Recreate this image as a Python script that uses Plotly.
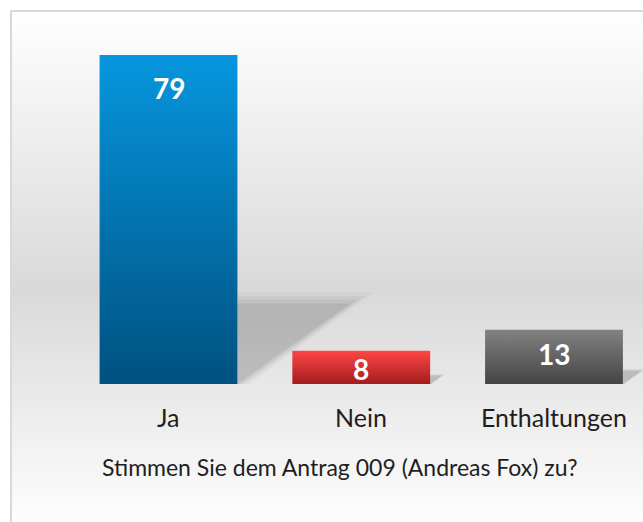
import plotly.graph_objects as go

# ---- data ----
categories = ["Ja", "Nein", "Enthaltungen"]
votes = [79, 8, 13]
axis_title = "Stimmen Sie dem Antrag 009 (Andreas Fox) zu?"

# ---- styles ----
bar_top_colors = ["#0696de", "#ff4646", "#828282"]
bar_bottom_colors = ["#005180", "#a31d1d", "#444444"]
label_shift_px = [-33, -18, -24]
FONT = "Lato, Open Sans, sans-serif"

W, H = 643, 522
L, R, T, B = 72, 0, 40, 138
pw, ph = W - L - R, H - T - B
cat_px = 192.75
first_center_px = 168.5
px_per_unit = 329 / 79.0
bar_w = 0.715

x_range = [(L - first_center_px) / cat_px, (W - R - first_center_px) / cat_px]
y_range = [0, ph / px_per_unit]


def px2paper_x(px):
    return (px - L) / pw


def px2paper_y(py):
    return (H - B - py) / ph


fig = go.Figure()

# ---- background gradient (white -> gray -> white) ----
def bg_level(py):
    top, mid, bot = 10, 290, 532
    if py <= mid:
        t = (py - top) / (mid - top)
    else:
        t = (bot - py) / (bot - mid)
    t = max(0.0, min(1.0, t))
    return int(round(255 - (255 - 217) * t))

shapes = []
step = 2
for py in range(10, H + 2, step):
    g = bg_level(py + step / 2)
    shapes.append(dict(type="rect", xref="paper", yref="paper",
                       x0=px2paper_x(11), x1=px2paper_x(W + 10),
                       y0=px2paper_y(py + step), y1=px2paper_y(py),
                       fillcolor=f"rgb({g},{g},{g})", line=dict(width=0),
                       layer="below"))
shapes.append(dict(type="rect", xref="paper", yref="paper",
                   x0=px2paper_x(11), x1=px2paper_x(W + 20),
                   y0=px2paper_y(H + 20), y1=px2paper_y(11),
                   fillcolor="rgba(0,0,0,0)",
                   line=dict(color="#d9d9d9", width=2), layer="below"))

# ---- shadows (soft perspective triangles) ----
for i, v in enumerate(votes):
    xr = i + bar_w / 2
    h = 0.245 * v
    ext = 0.585 * v / 79.0
    scale = max(v / 79.0, 0.15)
    for grow, alpha in [(0.12, 0.05), (0.08, 0.07), (0.04, 0.09), (0.0, 0.13)]:
        gx = grow * scale
        gy = grow * 22 * scale
        fig.add_trace(go.Scatter(
            x=[xr, xr, xr + ext + gx, xr + gx * 0.5],
            y=[0, h + gy, h + gy, 0],
            fill="toself", mode="lines", line=dict(width=0),
            fillcolor=f"rgba(90,90,90,{alpha})", hoverinfo="skip",
            showlegend=False))

# ---- gradient bars ----
for i, (c, v) in enumerate(zip(categories, votes)):
    fig.add_trace(go.Scatter(
        x=[i - bar_w / 2, i + bar_w / 2, i + bar_w / 2, i - bar_w / 2, i - bar_w / 2],
        y=[0, 0, v, v, 0],
        fill="toself", mode="lines", line=dict(width=0),
        fillgradient=dict(type="vertical",
                          colorscale=[[0, bar_bottom_colors[i]], [1, bar_top_colors[i]]]),
        name=c, hoverinfo="skip", showlegend=False))

annotations = []
for i, v in enumerate(votes):
    annotations.append(dict(x=i, y=v, xref="x", yref="y", text=str(v),
                            showarrow=False, yanchor="middle", yshift=label_shift_px[i],
                            font=dict(family=FONT, size=28, color="white", weight="bold")))
for i, c in enumerate(categories):
    annotations.append(dict(x=i, y=0, xref="x", yref="y", text=c,
                            showarrow=False, yanchor="middle", yshift=-33,
                            font=dict(family=FONT, size=25, color="#1e1e1e")))
annotations.append(dict(x=px2paper_x(340), y=px2paper_y(467), xref="paper", yref="paper",
                        text=axis_title, showarrow=False, yanchor="middle",
                        font=dict(family=FONT, size=23, color="#1e1e1e")))

fig.update_layout(
    width=W, height=H,
    margin=dict(l=L, r=R, t=T, b=B, pad=0),
    paper_bgcolor="white", plot_bgcolor="rgba(0,0,0,0)",
    shapes=shapes, annotations=annotations,
    xaxis=dict(range=x_range, visible=False, fixedrange=True),
    yaxis=dict(range=y_range, visible=False, fixedrange=True),
    showlegend=False,
)

fig.write_html("out.html", config={"displayModeBar": False},
               post_script="document.body.style.margin='0';document.body.style.overflow='hidden';")
